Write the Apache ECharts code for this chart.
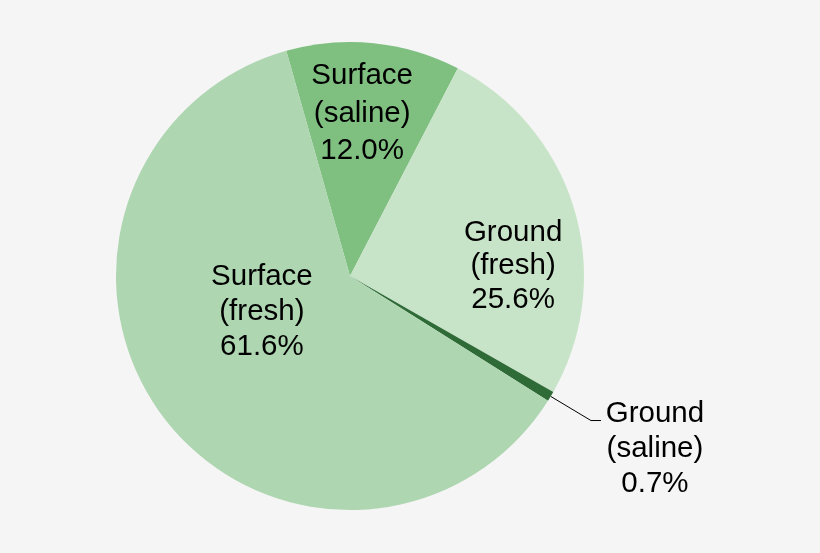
<!DOCTYPE html>
<html>
<head>
<meta charset="utf-8">
<script src="https://cdn.jsdelivr.net/npm/echarts@6/dist/echarts.min.js"></script>
<style>
  html, body { margin: 0; padding: 0; background: #f5f5f5; }
  #chart { width: 820px; height: 553px; }
</style>
</head>
<body>
<div id="chart"></div>
<script>
// water withdrawals by source, clockwise from the top
const sources = ["Surface", "Ground", "Ground", "Surface"];
const kinds = ["saline", "fresh", "saline", "fresh"];
const shares = [12.0, 25.6, 0.7, 61.6];

const colors = ["#7fbf80", "#c8e4c8", "#2e6b36", "#aed6b1"];
// label nudges for the inside labels (Excel placed them by hand)
const nudges = [[0, -43], [48, 24], null, [8, -36]];
const lineHeights = [37.5, 33.5, 35, 35];
const FONT = "Liberation Sans, Arial, sans-serif";

const chart = echarts.init(document.getElementById("chart"));

const pieData = shares.map((v, i) => {
  const item = {
    name: sources[i] + " (" + kinds[i] + ")",
    value: v,
    itemStyle: { color: colors[i] },
    label: { lineHeight: lineHeights[i] }
  };
  if (i === 2) {
    // tiny slice gets an outside label with a leader line
    item.label = {
      position: "outside",
      padding: [56, 0, 0, 0],
      formatter: p => "{c|" + sources[p.dataIndex] + "}\n{c|(" + kinds[p.dataIndex] + ")}\n{c|" + p.value.toFixed(1) + "%}",
      rich: {
        c: { width: 98, align: "center", fontSize: 29.5, lineHeight: 35, color: "#000", fontFamily: FONT }
      }
    };
    item.labelLine = {
      show: true,
      length: 47,
      length2: 10,
      smooth: false,
      lineStyle: { color: "#000", width: 1 }
    };
  }
  return item;
});

chart.setOption({
  backgroundColor: "#f5f5f5",
  animation: false,
  series: [
    {
      type: "pie",
      center: [350, 276],
      radius: 234,
      startAngle: 105.8,
      clockwise: true,
      avoidLabelOverlap: false,
      itemStyle: { borderWidth: 0 },
      emphasis: { disabled: true },
      label: {
        show: true,
        position: "inside",
        color: "#000",
        fontSize: 29.5,
        lineHeight: 35,
        fontFamily: FONT,
        formatter: p => sources[p.dataIndex] + "\n(" + kinds[p.dataIndex] + ")\n" + p.value.toFixed(1) + "%"
      },
      labelLine: { show: false },
      labelLayout: p => {
        const n = nudges[p.dataIndex];
        return n ? { dx: n[0], dy: n[1] } : {};
      },
      data: pieData
    }
  ]
});
</script>
</body>
</html>
